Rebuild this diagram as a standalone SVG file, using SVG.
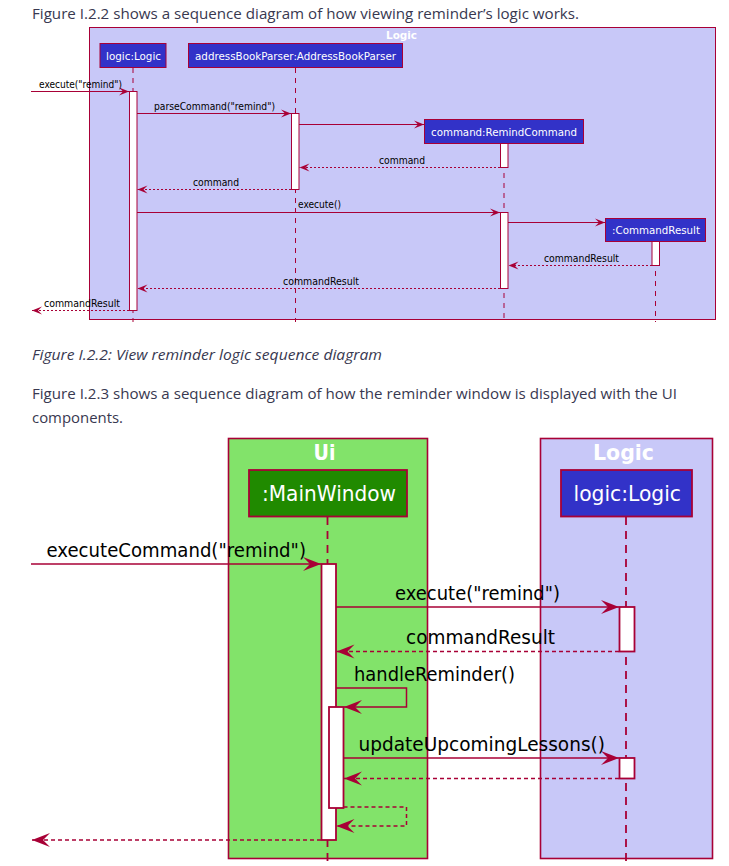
<svg xmlns="http://www.w3.org/2000/svg" width="729" height="866" viewBox="0 0 729 866">
<style>
.page{font-family:"Open Sans","Noto Sans",sans-serif;font-size:15px;fill:#383850}
.frameL{fill:#C8C8F8;stroke:#A80036;stroke-width:1}
.frameL2{fill:#C8C8F8;stroke:#A80036;stroke-width:1.6}
.frameU{fill:#82E36A;stroke:#A80036;stroke-width:1.6}
.part{fill:#3232C8;stroke:#A80036;stroke-width:1}
.part2{fill:#3232C8;stroke:#A80036;stroke-width:1.8}
.partG{fill:#208A00;stroke:#A80036;stroke-width:1.8}
.ptxt{font-family:"DejaVu Sans","Open Sans",sans-serif;font-size:11px;fill:#fff}
.ptxt2{font-family:"DejaVu Sans","Open Sans",sans-serif;font-size:21px;fill:#fff}
.ftxt{font-family:"DejaVu Sans","Open Sans",sans-serif;font-weight:bold;font-size:11px;fill:#fff}
.ftxt2{font-family:"DejaVu Sans","Open Sans",sans-serif;font-weight:bold;font-size:22px;fill:#fff}
.life{stroke:#A80036;stroke-width:1;stroke-dasharray:5,5;fill:none}
.life2{stroke:#A80036;stroke-width:1.8;stroke-dasharray:8,6;fill:none}
.act{fill:#fff;stroke:#A80036;stroke-width:1}
.act2{fill:#fff;stroke:#A80036;stroke-width:1.8}
.msg{stroke:#A80036;stroke-width:1;fill:none;marker-end:url(#ah)}
.ret{stroke:#A80036;stroke-width:1;stroke-dasharray:2,2;fill:none;marker-end:url(#ah)}
.msg2{stroke:#A80036;stroke-width:1.5;fill:none;marker-end:url(#ah2)}
.ret2{stroke:#A80036;stroke-width:1.5;stroke-dasharray:4,3;fill:none;marker-end:url(#ah2)}
.mtxt{font-family:"DejaVu Sans","Open Sans",sans-serif;font-size:10px;fill:#000}
.mtxt2{font-family:"DejaVu Sans","Open Sans",sans-serif;font-size:19px;fill:#000}
</style>
<defs>
<marker id="ah" markerUnits="userSpaceOnUse" markerWidth="11" markerHeight="9" refX="10" refY="4" orient="auto" overflow="visible">
<path d="M0,0 L10,4 L0,8 L4,4 Z" fill="#A80036"/>
</marker>
<marker id="ah2" markerUnits="userSpaceOnUse" markerWidth="19" markerHeight="15" refX="18" refY="7" orient="auto" overflow="visible">
<path d="M0,0 L18,7 L0,14 L7,7 Z" fill="#A80036"/>
</marker>
</defs>
<rect x="0" y="0" width="729" height="866" fill="#fff"/>

<g id="text-page">
<text class="page" x="32" y="19" textLength="547" lengthAdjust="spacingAndGlyphs">Figure I.2.2 shows a sequence diagram of how viewing reminder’s logic works.</text>
<text class="page" x="32" y="360" font-style="italic" textLength="350" lengthAdjust="spacingAndGlyphs">Figure I.2.2: View reminder logic sequence diagram</text>
<text class="page" x="32" y="399" textLength="645" lengthAdjust="spacingAndGlyphs">Figure I.2.3 shows a sequence diagram of how the reminder window is displayed with the UI</text>
<text class="page" x="32" y="423" textLength="91" lengthAdjust="spacingAndGlyphs">components.</text>
</g>

<!-- Diagram 1 -->
<g id="frame-logic-1">
<rect class="frameL" x="89.5" y="27.5" width="626" height="292"/>
<text class="ftxt" x="386" y="38.5" textLength="31" lengthAdjust="spacingAndGlyphs">Logic</text>
</g>
<g id="lifelines-1">
<line class="life" x1="133" y1="68" x2="133" y2="322"/>
<line class="life" x1="295.5" y1="68" x2="295.5" y2="322"/>
<line class="life" x1="504" y1="143" x2="504" y2="322"/>
<line class="life" x1="655.5" y1="241" x2="655.5" y2="322"/>
</g>
<g id="p-logic-1">
<rect class="part" x="100" y="43.5" width="66" height="24"/>
<text class="ptxt" x="106" y="59.5" textLength="55" lengthAdjust="spacingAndGlyphs">logic:Logic</text>
</g>
<g id="p-parser">
<rect class="part" x="188.5" y="43.5" width="214" height="24"/>
<text class="ptxt" x="195" y="59.5" textLength="201" lengthAdjust="spacingAndGlyphs">addressBookParser:AddressBookParser</text>
</g>
<g id="p-remindcommand">
<rect class="part" x="424.5" y="119.5" width="159" height="24"/>
<text class="ptxt" x="431" y="135.5" textLength="146" lengthAdjust="spacingAndGlyphs">command:RemindCommand</text>
</g>
<g id="p-commandresult">
<rect class="part" x="605.5" y="218.5" width="100" height="23"/>
<text class="ptxt" x="612" y="234" textLength="88" lengthAdjust="spacingAndGlyphs">:CommandResult</text>
</g>
<g id="activations-1">
<rect class="act" x="129.5" y="91.5" width="7.5" height="219"/>
<rect class="act" x="291.5" y="113.5" width="7.5" height="76"/>
<rect class="act" x="500.5" y="143.5" width="7.5" height="24"/>
<rect class="act" x="500.5" y="212.5" width="7.5" height="76"/>
<rect class="act" x="652" y="241.5" width="7.5" height="24"/>
</g>
<g id="connectors-1">
<line class="msg" x1="31" y1="91.5" x2="129" y2="91.5"/>
<line class="msg" x1="137" y1="113.5" x2="291" y2="113.5"/>
<line class="msg" x1="299" y1="124.5" x2="424" y2="124.5"/>
<line class="ret" x1="500" y1="167.5" x2="299.5" y2="167.5"/>
<line class="ret" x1="291" y1="189.5" x2="137.5" y2="189.5"/>
<line class="msg" x1="137" y1="212.5" x2="500" y2="212.5"/>
<line class="msg" x1="508" y1="222.5" x2="605" y2="222.5"/>
<line class="ret" x1="652" y1="265.5" x2="508.5" y2="265.5"/>
<line class="ret" x1="500" y1="288.5" x2="137.5" y2="288.5"/>
<line class="ret" x1="129" y1="310.5" x2="32" y2="310.5"/>
</g>
<g id="labels-1">
<text class="mtxt" x="39" y="88" textLength="83" lengthAdjust="spacingAndGlyphs">execute("remind")</text>
<text class="mtxt" x="154" y="110" textLength="121" lengthAdjust="spacingAndGlyphs">parseCommand("remind")</text>
<text class="mtxt" x="379" y="163.5" textLength="46" lengthAdjust="spacingAndGlyphs">command</text>
<text class="mtxt" x="193" y="186" textLength="46" lengthAdjust="spacingAndGlyphs">command</text>
<text class="mtxt" x="298" y="207.5" textLength="43" lengthAdjust="spacingAndGlyphs">execute()</text>
<text class="mtxt" x="544" y="262" textLength="75" lengthAdjust="spacingAndGlyphs">commandResult</text>
<text class="mtxt" x="283" y="284.5" textLength="76" lengthAdjust="spacingAndGlyphs">commandResult</text>
<text class="mtxt" x="44" y="306.5" textLength="76" lengthAdjust="spacingAndGlyphs">commandResult</text>
</g>

<!-- Diagram 2 -->
<g id="frame-ui">
<rect class="frameU" x="228.5" y="438.5" width="199" height="420"/>
<text class="ftxt2" x="313.5" y="460" textLength="22" lengthAdjust="spacingAndGlyphs">Ui</text>
</g>
<g id="frame-logic-2">
<rect class="frameL2" x="540.5" y="438.5" width="172" height="420"/>
<text class="ftxt2" x="593" y="460" textLength="61" lengthAdjust="spacingAndGlyphs">Logic</text>
</g>
<g id="lifelines-2">
<line class="life2" x1="327.5" y1="517" x2="327.5" y2="866"/>
<line class="life2" x1="626" y1="517" x2="626" y2="866"/>
</g>
<g id="p-mainwindow">
<rect class="partG" x="249" y="470" width="158" height="46.5"/>
<text class="ptxt2" x="262" y="500.5" textLength="134" lengthAdjust="spacingAndGlyphs">:MainWindow</text>
</g>
<g id="p-logic-2">
<rect class="part2" x="561" y="470" width="131" height="46.5"/>
<text class="ptxt2" x="573.5" y="500.5" textLength="107.5" lengthAdjust="spacingAndGlyphs">logic:Logic</text>
</g>
<g id="activations-2">
<rect class="act2" x="321.5" y="564" width="14.5" height="276"/>
<rect class="act2" x="619.5" y="607" width="15" height="44.5"/>
<rect class="act2" x="329" y="707" width="14.5" height="101"/>
<rect class="act2" x="619.5" y="758" width="15" height="20.5"/>
</g>
<g id="connectors-2">
<line class="msg2" x1="31" y1="564" x2="321" y2="564"/>
<line class="msg2" x1="336" y1="607" x2="619" y2="607"/>
<line class="ret2" x1="619" y1="651.5" x2="336.5" y2="651.5"/>
<polyline class="msg2" points="336,688 406.5,688 406.5,707 344,707"/>
<line class="msg2" x1="343.5" y1="758" x2="619" y2="758"/>
<line class="ret2" x1="619" y1="778.5" x2="344" y2="778.5"/>
<polyline class="ret2" points="343.5,807 406.5,807 406.5,826 336.5,826"/>
<line class="ret2" x1="321" y1="840" x2="32" y2="840"/>
</g>
<g id="labels-2">
<text class="mtxt2" x="46.5" y="557" textLength="259.5" lengthAdjust="spacingAndGlyphs">executeCommand("remind")</text>
<text class="mtxt2" x="395" y="600" textLength="165" lengthAdjust="spacingAndGlyphs">execute("remind")</text>
<text class="mtxt2" x="406" y="643.5" textLength="149" lengthAdjust="spacingAndGlyphs">commandResult</text>
<text class="mtxt2" x="354" y="681" textLength="161" lengthAdjust="spacingAndGlyphs">handleReminder()</text>
<text class="mtxt2" x="358.5" y="751" textLength="246.5" lengthAdjust="spacingAndGlyphs">updateUpcomingLessons()</text>
</g>
</svg>
